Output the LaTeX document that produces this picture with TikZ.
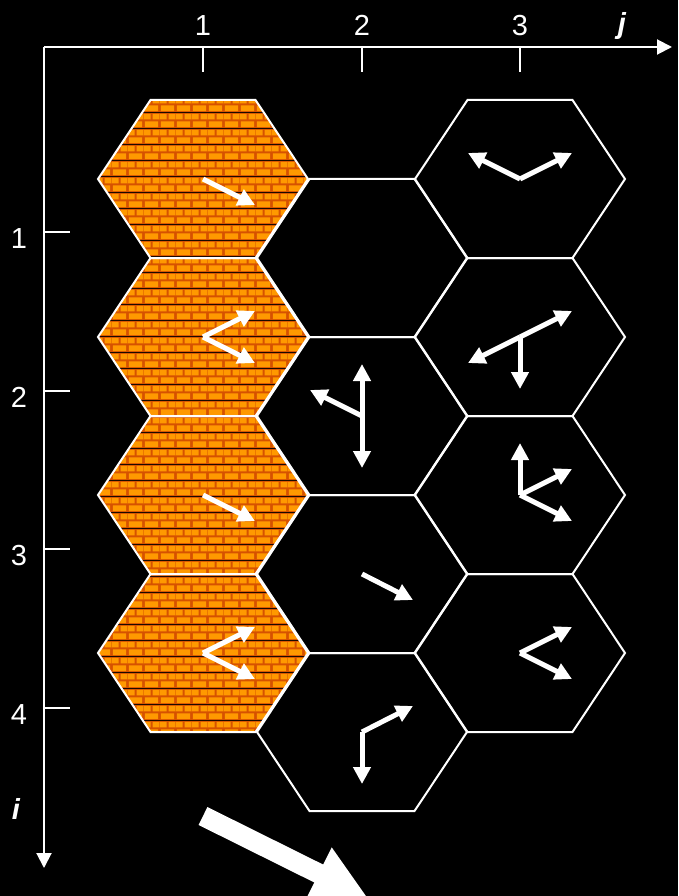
\documentclass[tikz,border=0pt]{standalone}
\usepackage{fontspec}
\setmainfont{Liberation Sans}
\usepackage{xcolor}
\usepackage{tikz}
\usetikzlibrary{arrows.meta, patterns}
\definecolor{brickorange}{RGB}{255, 153, 0}
\definecolor{mortarred}{RGB}{214, 82, 0}

\pgfdeclarepatterninherentlycolored{brickwall}{\pgfpointorigin}{\pgfqpoint{16pt}{16pt}}{\pgfqpoint{16pt}{16pt}}{%
  \pgfsetfillcolor{mortarred}
  \pgfpathrectangle{\pgfpointorigin}{\pgfqpoint{16pt}{16pt}}
  \pgfusepath{fill}
  \pgfsetfillcolor{brickorange}
  \pgfpathrectangle{\pgfqpoint{1pt}{1pt}}{\pgfqpoint{14pt}{6pt}}
  \pgfpathrectangle{\pgfqpoint{0pt}{9pt}}{\pgfqpoint{7pt}{6pt}}
  \pgfpathrectangle{\pgfqpoint{9pt}{9pt}}{\pgfqpoint{7pt}{6pt}}
  \pgfusepath{fill}
}

\begin{document}
\begin{tikzpicture}[x=1pt, y=-1pt, font=\fontsize{29}{32}\selectfont]
    % Styles
    \tikzstyle{axisline} = [white, line width=2pt, -{Triangle[length=15pt, width=15pt]}]
    \tikzstyle{tickmark} = [white, line width=1.5pt]
    \tikzstyle{axlabel} = [text=white, inner sep=0pt, anchor=base]
    \tikzstyle{axname} = [axlabel, font=\fontsize{29}{32}\selectfont\bfseries\itshape]
    \tikzstyle{hexcell} = [draw=white, line width=2pt, line join=miter]
    \tikzstyle{wall} = [pattern=brickwall]
    \tikzstyle{vec} = [white, line width=5pt, -{Triangle[length=17pt, width=17pt]}]
    \tikzstyle{dvec} = [white, line width=5pt, {Triangle[length=17pt, width=17pt]}-{Triangle[length=17pt, width=17pt]}]
    \tikzstyle{bigarrow} = [white, line width=20pt, -{Triangle[length=55pt, width=54pt]}]

    \useasboundingbox (0,0) rectangle (678,896);
    \fill[black] (0,0) rectangle (678,896);

    % Axes
    \coordinate (o) at (44,47);
    \coordinate (jend) at (672,47);
    \coordinate (iend) at (44,868);
    \draw[axisline] (o) -- (jend);
    \draw[axisline] (o) -- (iend);
    \foreach \x/\n in {203/1, 362/2, 520/3} {
        \draw[tickmark] (\x,47) -- (\x,72);
        \node[axlabel] (col\n) at (\x,36) {\n};
    }
    \foreach \y/\n in {232/1, 391/2, 549/3, 708/4} {
        \draw[tickmark] (44,\y) -- (70,\y);
        \node[axlabel] (row\n) at (19,\y+16) {\n};
    }
    \node[axname] (jlab) at (622,34) {j};
    \node[axname] (ilab) at (16,819) {i};

    % Cells
    \foreach \x/\y/\n in {203/179/a1, 203/337/a2, 203/495/a3, 203/653/a4,
                          362/258/b1, 362/416/b2, 362/574/b3, 362/732/b4,
                          520/179/c1, 520/337/c2, 520/495/c3, 520/653/c4}
        \coordinate (\n) at (\x,\y);
    \foreach \c in {a1, a2, a3, a4}
        \path[wall] (\c) ++(-105,0) -- ++(52.5,-79) -- ++(105,0) -- ++(52.5,79) -- ++(-52.5,79) -- ++(-105,0) -- cycle;
    \foreach \c in {a1, a2, a3, a4, b1, b2, b3, b4, c1, c2, c3, c4}
        \draw[hexcell] (\c) ++(-105,0) -- ++(52.5,-79) -- ++(105,0) -- ++(52.5,79) -- ++(-52.5,79) -- ++(-105,0) -- cycle;

    % Arrows
    \draw[vec] (a1) -- +(52,26);
    \draw[vec] (a2) -- +(52,-26);
    \draw[vec] (a2) -- +(52,26);
    \draw[vec] (a3) -- +(52,26);
    \draw[vec] (a4) -- +(52,-26);
    \draw[vec] (a4) -- +(52,26);
    \draw[dvec] (b2) ++(0,-52) -- ++(0,104);
    \draw[vec] (b2) -- +(-52,-26);
    \draw[vec] (b3) -- +(51,26);
    \draw[vec] (b4) -- +(51,-26);
    \draw[vec] (b4) -- +(0,52);
    \draw[vec] (c1) -- +(-52,-26);
    \draw[vec] (c1) -- +(52,-26);
    \draw[vec] (c2) -- +(52,-26);
    \draw[vec] (c2) -- +(-52,26);
    \draw[vec] (c2) -- +(0,52);
    \draw[vec] (c3) -- +(0,-52);
    \draw[vec] (c3) -- +(52,-26);
    \draw[vec] (c3) -- +(52,26);
    \draw[vec] (c4) -- +(52,-26);
    \draw[vec] (c4) -- +(52,26);

    % Flow direction
    \coordinate (flowstart) at (203,816);
    \coordinate (flowend) at (368,898);
    \draw[bigarrow] (flowstart) -- (flowend);
\end{tikzpicture}
\end{document}
